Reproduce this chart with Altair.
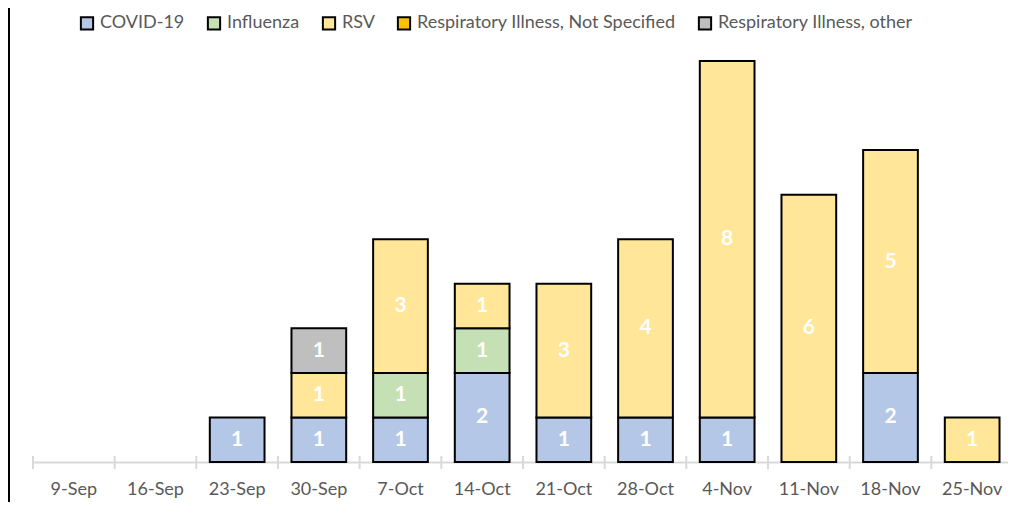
import altair as alt
import pandas as pd

weeks = ["9-Sep", "16-Sep", "23-Sep", "30-Sep", "7-Oct", "14-Oct", "21-Oct",
         "28-Oct", "4-Nov", "11-Nov", "18-Nov", "25-Nov"]
series = ["COVID-19", "Influenza", "RSV", "Respiratory Illness, Not Specified",
          "Respiratory Illness, other"]
colors = ["#B4C7E7", "#C5E0B4", "#FFE699", "#FFC000", "#BFBFBF"]

covid = [0, 0, 1, 1, 1, 2, 1, 1, 1, 0, 2, 0]
influenza = [0, 0, 0, 0, 1, 1, 0, 0, 0, 0, 0, 0]
rsv = [0, 0, 0, 1, 3, 1, 3, 4, 8, 6, 5, 1]
not_specified = [0, 0, 0, 0, 0, 0, 0, 0, 0, 0, 0, 0]
other = [0, 0, 0, 1, 0, 0, 0, 0, 0, 0, 0, 0]

values = [covid, influenza, rsv, not_specified, other]
rows = []
for si, (name, vals) in enumerate(zip(series, values)):
    for w, v in zip(weeks, vals):
        if v > 0:
            rows.append({"week": w, "series": name, "order": si, "count": v})
df = pd.DataFrame(rows)
ticks_df = pd.DataFrame({"week": weeks})
last_df = pd.DataFrame({"week": [weeks[-1]]})

FONT = "Lato"
W, H = 980, 401

xscale = alt.Scale(domain=weeks, paddingInner=0, paddingOuter=0)
xaxis = alt.Axis(title=None, ticks=False, labelAngle=0, labelPadding=18,
                 labelFontSize=18, labelColor="#595959", labelFont=FONT,
                 labelAlign="center", bandPosition=0.5,
                 domainColor="#D9D9D9", domainWidth=2)
yscale = alt.Scale(domain=[0, 9], nice=False)

base = alt.Chart(df).transform_stack(
    stack="count", groupby=["week"], as_=["y0", "y1"],
    sort=[alt.SortField("order", order="ascending")]
).transform_calculate(mid="(datum.y0 + datum.y1) / 2")

bars = base.mark_bar(width=alt.RelativeBandSize(0.67), stroke="black",
                     strokeWidth=2).encode(
    x=alt.X("week:N", scale=xscale, axis=xaxis, sort=weeks),
    y=alt.Y("y0:Q", scale=yscale, axis=None),
    y2="y1:Q",
    fill=alt.Fill("series:N", scale=alt.Scale(domain=series, range=colors),
                  legend=alt.Legend(title=None, orient="none", direction="horizontal",
                                    columns=5, legendX=45, legendY=-47,
                                    symbolType="square", symbolSize=150,
                                    symbolStrokeColor="black", symbolStrokeWidth=2,
                                    labelFontSize=18, labelColor="#595959",
                                    labelFont=FONT, columnPadding=18, labelLimit=0,
                                    symbolOffset=0, labelOffset=4)),
)

labels = base.mark_text(color="white", fontSize=21, fontWeight="bold",
                        font=FONT, baseline="middle").encode(
    x=alt.X("week:N", scale=xscale, sort=weeks),
    y=alt.Y("mid:Q", scale=yscale),
    text=alt.Text("count:Q"),
)

ticks = alt.Chart(ticks_df).mark_rule(color="#D9D9D9", strokeWidth=2).encode(
    x=alt.X("week:N", scale=xscale, bandPosition=0, sort=weeks),
    y=alt.value(H - 6), y2=alt.value(H + 7),
)
last_tick = alt.Chart(last_df).mark_rule(color="#D9D9D9", strokeWidth=2).encode(
    x=alt.X("week:N", scale=xscale, bandPosition=1, sort=weeks),
    y=alt.value(H - 6), y2=alt.value(H + 7),
)
border = alt.Chart(ticks_df).mark_rule(color="black", strokeWidth=2).encode(
    x=alt.value(-24), y=alt.value(-53), y2=alt.value(H + 40),
)

chart = alt.layer(bars, labels, ticks, last_tick, border).properties(
    width=W, height=H,
    autosize=alt.AutoSizeParams(type="none"),
    padding={"left": 25, "top": 53, "right": -5, "bottom": 40},
    background="white",
).configure_view(stroke=None)

chart.save("out.html", embed_options={"renderer": "svg", "actions": False})
